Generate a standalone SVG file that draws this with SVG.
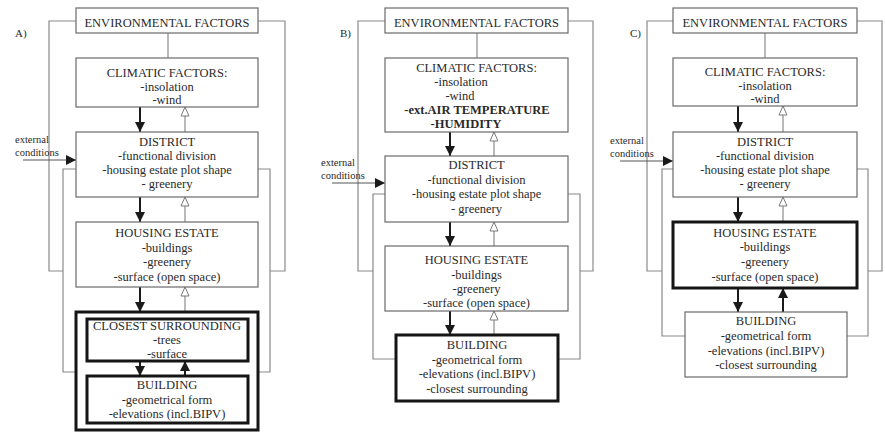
<svg xmlns="http://www.w3.org/2000/svg" width="885" height="432" viewBox="0 0 885 432">
<style>
text{font-family:'Liberation Serif','Times New Roman','DejaVu Serif','Noto Serif',serif;font-size:12.5px;fill:#2a2a2a;text-anchor:middle}
.lbl{font-size:11px;text-anchor:start}
.ext{font-size:10.5px;text-anchor:start}
.b{font-weight:bold}
.box{fill:#fff;stroke:#6a6a6a;stroke-width:1.2}
.bold{fill:none;stroke:#151515;stroke-width:3}
.ln{fill:none;stroke:#8a8a8a;stroke-width:1.2}
.dn{fill:none;stroke:#1a1a1a;stroke-width:2;marker-end:url(#fa)}
.upo{fill:none;stroke:#8a8a8a;stroke-width:1.2;marker-end:url(#oa)}
.upf{fill:none;stroke:#1a1a1a;stroke-width:2;marker-end:url(#fa)}
.ex{fill:none;stroke:#555;stroke-width:1;marker-end:url(#fa)}
</style>
<defs>
<marker id="fa" markerUnits="userSpaceOnUse" markerWidth="12" markerHeight="12" refX="10" refY="5" orient="auto" overflow="visible"><path d="M0,0 L10,5 L0,10 z" fill="#1a1a1a"/></marker>
<marker id="oa" markerUnits="userSpaceOnUse" markerWidth="12" markerHeight="12" refX="9" refY="4" orient="auto" overflow="visible"><path d="M0,0 L9,4 L0,8 z" fill="#fff" stroke="#7a7a7a" stroke-width="1"/></marker>
</defs>

<g id="connectors">
<path class="ln" d="M168,33 V58"/>
<path class="ln" d="M76,21 H49 V271 H63"/>
<path class="ln" d="M258,21 H285 V271 H270"/>
<path class="ln" d="M76,169 H63 V372 H76"/>
<path class="ln" d="M258,169 H270 V372 H258"/>
<path class="ex" d="M23,160 H76"/>
<path class="dn" d="M140,107 V132"/>
<path class="dn" d="M140,197 V222"/>
<path class="dn" d="M140,287 V312"/>
<path class="dn" d="M140,361 V376"/>
<path class="upo" d="M185,132 V107"/>
<path class="upo" d="M185,222 V197"/>
<path class="upo" d="M185,312 V287"/>
<path class="upf" d="M185,376 V361"/>
<path class="ln" d="M477,33 V58"/>
<path class="ln" d="M385,21 H358 V271 H373"/>
<path class="ln" d="M568,21 H593 V271 H580"/>
<path class="ln" d="M385,194 H373 V359 H396"/>
<path class="ln" d="M568,194 H580 V359 H558"/>
<path class="ex" d="M332,183 H385"/>
<path class="dn" d="M450,132 V156"/>
<path class="dn" d="M450,222 V246"/>
<path class="dn" d="M450,311 V335"/>
<path class="upo" d="M494,156 V132"/>
<path class="upo" d="M494,246 V222"/>
<path class="upo" d="M494,335 V311"/>
<path class="ln" d="M765,33 V58"/>
<path class="ln" d="M673,21 H647 V271 H662"/>
<path class="ln" d="M857,21 H882 V271 H868"/>
<path class="ln" d="M673,169 H662 V336 H685"/>
<path class="ln" d="M857,169 H868 V336 H847"/>
<path class="ex" d="M620,161 H673"/>
<path class="dn" d="M738,106 V132"/>
<path class="dn" d="M738,197 V222"/>
<path class="dn" d="M738,288 V312"/>
<path class="upo" d="M783,132 V106"/>
<path class="upo" d="M783,222 V197"/>
<path class="upf" d="M783,312 V288"/>
</g>

<text class="lbl" x="15" y="37">A)</text>
<g id="a-env"><rect class="box" x="76" y="8" width="182" height="25"/><text x="167" y="27">ENVIRONMENTAL FACTORS</text></g>
<g id="a-clim"><rect class="box" x="76" y="58" width="182" height="49"/>
<text x="167" y="77">CLIMATIC FACTORS:</text><text x="167" y="91">-insolation</text><text x="167" y="104">-wind</text></g>
<g id="a-ext"><text class="ext" x="15" y="143">external</text><text class="ext" x="15" y="156">conditions</text></g>
<g id="a-district"><rect class="box" x="76" y="132" width="182" height="65"/>
<text x="167" y="146">DISTRICT</text><text x="167" y="160">-functional division</text><text x="167" y="174">-housing estate plot shape</text><text x="167" y="188">- greenery</text></g>
<g id="a-housing"><rect class="box" x="76" y="222" width="182" height="65"/>
<text x="167" y="237">HOUSING ESTATE</text><text x="167" y="252">-buildings</text><text x="167" y="266">-greenery</text><text x="167" y="281">-surface (open space)</text></g>
<g id="a-group"><rect class="bold" x="76" y="312" width="182" height="118"/></g>
<g id="a-closest"><rect class="bold" x="87" y="319" width="161" height="42"/>
<text x="167" y="330">CLOSEST SURROUNDING</text><text x="167" y="344">-trees</text><text x="167" y="358">-surface</text></g>
<g id="a-building"><rect class="bold" x="87" y="376" width="161" height="47"/>
<text x="167" y="389">BUILDING</text><text x="167" y="404">-geometrical form</text><text x="167" y="418">-elevations (incl.BIPV)</text></g>

<text class="lbl" x="340" y="37">B)</text>
<g id="b-env"><rect class="box" x="385" y="8" width="183" height="25"/><text x="476.5" y="27">ENVIRONMENTAL FACTORS</text></g>
<g id="b-clim"><rect class="box" x="385" y="58" width="183" height="74"/>
<text x="476.5" y="72">CLIMATIC FACTORS:</text><text x="461" y="86">-insolation</text><text x="460" y="100">-wind</text>
<text class="b" x="477" y="114">-ext.AIR TEMPERATURE</text><text class="b" x="466" y="128">-HUMIDITY</text></g>
<g id="b-ext"><text class="ext" x="321" y="166">external</text><text class="ext" x="321" y="179">conditions</text></g>
<g id="b-district"><rect class="box" x="385" y="156" width="183" height="66"/>
<text x="476.5" y="169">DISTRICT</text><text x="476.5" y="184">-functional division</text><text x="476.5" y="198">-housing estate plot shape</text><text x="476.5" y="213">- greenery</text></g>
<g id="b-housing"><rect class="box" x="385" y="246" width="183" height="65"/>
<text x="476.5" y="264">HOUSING ESTATE</text><text x="476.5" y="279">-buildings</text><text x="476.5" y="293">-greenery</text><text x="476.5" y="307">-surface (open space)</text></g>
<g id="b-building"><rect class="bold" x="396" y="335" width="162" height="66"/>
<text x="477" y="349">BUILDING</text><text x="477" y="364">-geometrical form</text><text x="477" y="378">-elevations (incl.BIPV)</text><text x="477" y="393">-closest surrounding</text></g>

<text class="lbl" x="630" y="37">C)</text>
<g id="c-env"><rect class="box" x="673" y="8" width="184" height="25"/><text x="765" y="27">ENVIRONMENTAL FACTORS</text></g>
<g id="c-clim"><rect class="box" x="673" y="58" width="184" height="48"/>
<text x="765" y="76">CLIMATIC FACTORS:</text><text x="765" y="90">-insolation</text><text x="765" y="103">-wind</text></g>
<g id="c-ext"><text class="ext" x="610" y="144">external</text><text class="ext" x="610" y="157">conditions</text></g>
<g id="c-district"><rect class="box" x="673" y="132" width="184" height="65"/>
<text x="765" y="146">DISTRICT</text><text x="765" y="160">-functional division</text><text x="765" y="174">-housing estate plot shape</text><text x="765" y="188">- greenery</text></g>
<g id="c-housing"><rect class="bold" x="673" y="222" width="184" height="66"/>
<text x="765" y="237">HOUSING ESTATE</text><text x="765" y="251">-buildings</text><text x="765" y="266">-greenery</text><text x="765" y="281">-surface (open space)</text></g>
<g id="c-building"><rect class="box" x="685" y="312" width="162" height="65"/>
<text x="766" y="325">BUILDING</text><text x="766" y="340">-geometrical form</text><text x="766" y="355">-elevations (incl.BIPV)</text><text x="766" y="369">-closest surrounding</text></g>
</svg>
